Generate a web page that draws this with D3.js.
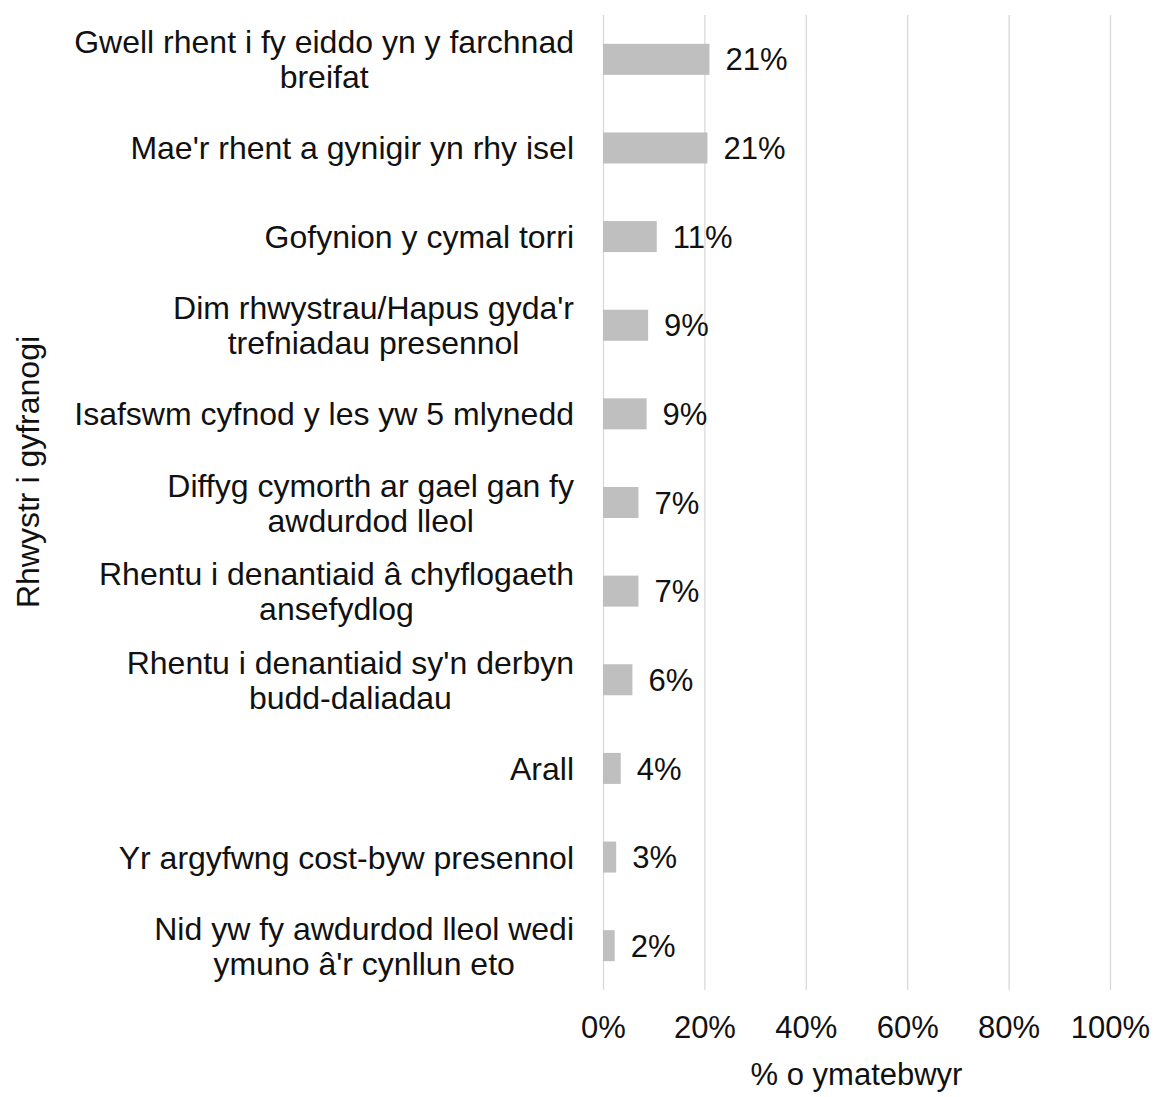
<!DOCTYPE html>
<html>
<head>
<meta charset="utf-8">
<script src="https://cdn.jsdelivr.net/npm/d3@7"></script>
<style>
  html, body { margin: 0; padding: 0; background: #fff; }
  svg text { font-family: "Liberation Sans", Arial, sans-serif; fill: #111; }
</style>
</head>
<body>
<svg id="chart" width="1154" height="1097"></svg>
<script>
// Barriers to taking part, share of respondents (%)
const categories = [
  ["Gwell rhent i fy eiddo yn y farchnad", "breifat"],
  ["Mae'r rhent a gynigir yn rhy isel"],
  ["Gofynion y cymal torri"],
  ["Dim rhwystrau/Hapus gyda'r", "trefniadau presennol"],
  ["Isafswm cyfnod y les yw 5 mlynedd"],
  ["Diffyg cymorth ar gael gan fy", "awdurdod lleol"],
  ["Rhentu i denantiaid â chyflogaeth", "ansefydlog"],
  ["Rhentu i denantiaid sy'n derbyn", "budd-daliadau"],
  ["Arall"],
  ["Yr argyfwng cost-byw presennol"],
  ["Nid yw fy awdurdod lleol wedi", "ymuno â'r cynllun eto"]
];
const values = [21.0, 20.6, 10.6, 8.9, 8.6, 7.0, 7.0, 5.8, 3.5, 2.6, 2.3];
const xTicks = [0, 20, 40, 60, 80, 100];
const xTitle = "% o ymatebwyr";
const yTitle = "Rhwystr i gyfranogi";

const svg = d3.select("#chart");
const plot = { left: 603, right: 1110, top: 15, bottom: 990 };
const fontSize = 32;

const x = d3.scaleLinear().domain([0, 100]).range([plot.left, plot.right]);
const y = d3.scaleBand()
  .domain(d3.range(categories.length))
  .range([plot.top, plot.bottom])
  .paddingInner(0.65)
  .paddingOuter(0.325);

// vertical gridlines
const grid = svg.append("g")
  .attr("transform", `translate(0,${plot.bottom})`)
  .call(d3.axisBottom(x).tickValues(xTicks).tickSize(-(plot.bottom - plot.top)).tickFormat(""));
grid.select(".domain").remove();
grid.selectAll(".tick line").attr("stroke", "#d9d9d9").attr("stroke-width", 1.3);

// x tick labels
const xAxis = svg.append("g")
  .attr("transform", `translate(0,${plot.bottom})`)
  .call(d3.axisBottom(x).tickValues(xTicks).tickSize(0).tickPadding(26).tickFormat(d => d + "%"));
xAxis.select(".domain").remove();
xAxis.selectAll("text")
  .attr("font-size", 31)
  .style("font-family", '"Liberation Sans", Arial, sans-serif')
  .attr("fill", "#111");

// bars
svg.append("g").selectAll("rect")
  .data(values)
  .join("rect")
  .attr("x", x(0))
  .attr("y", (d, i) => y(i))
  .attr("width", d => x(d) - x(0))
  .attr("height", y.bandwidth())
  .attr("fill", "#bfbfbf");

// value labels
svg.append("g").selectAll("text")
  .data(values)
  .join("text")
  .attr("x", d => x(d) + 16)
  .attr("y", (d, i) => y(i) + y.bandwidth() / 2)
  .attr("dy", "0.36em")
  .attr("font-size", 31)
  .text(d => Math.round(d) + "%");

// category labels: block right-aligned, wrapped lines centred within the block
const labelRight = 574;
const lineGap = 35;
const catG = svg.append("g");
categories.forEach((lines, i) => {
  const cy = y(i) + y.bandwidth() / 2;
  const t = catG.append("text").attr("font-size", fontSize).attr("text-anchor", "middle");
  const spans = lines.map((line, k) =>
    t.append("tspan")
      .attr("y", cy + (k - (lines.length - 1) / 2) * lineGap)
      .attr("dy", "0.36em")
      .text(line)
  );
  const maxW = d3.max(spans, s => s.node().getComputedTextLength());
  spans.forEach(s => s.attr("x", labelRight - maxW / 2));
});

// axis titles
svg.append("text")
  .attr("x", (plot.left + plot.right) / 2)
  .attr("y", 1074)
  .attr("dy", "0.36em")
  .attr("text-anchor", "middle")
  .attr("font-size", 31)
  .text(xTitle);

svg.append("text")
  .attr("transform", "translate(27,472) rotate(-90)")
  .attr("dy", "0.36em")
  .attr("text-anchor", "middle")
  .attr("font-size", fontSize)
  .text(yTitle);
</script>
</body>
</html>
